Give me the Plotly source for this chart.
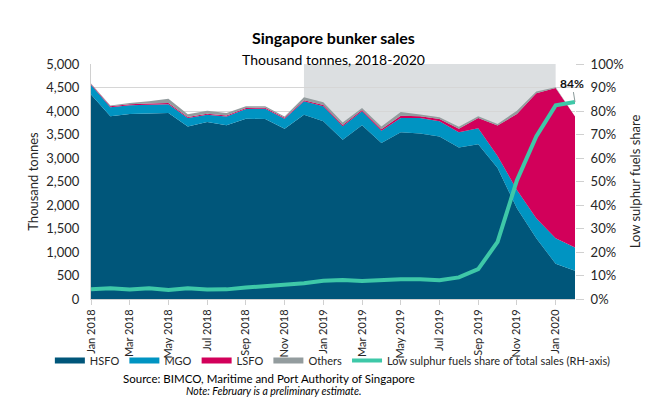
import plotly.graph_objects as go

months = ["Jan 2018", "Feb 2018", "Mar 2018", "Apr 2018", "May 2018", "Jun 2018",
          "Jul 2018", "Aug 2018", "Sep 2018", "Oct 2018", "Nov 2018", "Dec 2018",
          "Jan 2019", "Feb 2019", "Mar 2019", "Apr 2019", "May 2019", "Jun 2019",
          "Jul 2019", "Aug 2019", "Sep 2019", "Oct 2019", "Nov 2019", "Dec 2019",
          "Jan 2020", "Feb 2020"]

hsfo = [4350, 3890, 3935, 3945, 3955, 3670, 3765, 3695, 3835, 3830, 3620, 3920,
        3780, 3390, 3695, 3320, 3550, 3520, 3460, 3225, 3295, 2785, 1930, 1295,
        750, 600]
mgo = [210, 190, 185, 190, 190, 180, 155, 190, 210, 220, 215, 285,
       320, 285, 300, 260, 300, 330, 320, 325, 340, 255, 390, 425,
       545, 495]
lsfo = [15, 20, 25, 25, 25, 20, 20, 20, 20, 20, 20, 25,
        30, 25, 25, 30, 50, 40, 50, 70, 215, 650, 1615, 2660,
        3195, 2790]
others = [10, 15, 25, 45, 90, 60, 65, 50, 35, 30, 30, 60,
          55, 55, 45, 60, 80, 35, 35, 45, 40, 35, 70, 35,
          15, 0]
ls_share = [4.1, 4.6, 4.0, 4.6, 3.8, 4.6, 4.0, 4.1, 4.9, 5.5, 5.7, 6.7,
            7.8, 8.1, 7.7, 8.1, 8.4, 8.4, 8.0, 9.2, 12.7, 24.3, 50.5, 69.2,
            82.4, 83.8]

tick_months = months[::2]
left_ticks = list(range(0, 5001, 500))
right_ticks = list(range(0, 101, 10))
right_labels = [f"{v}%" for v in right_ticks]

FONT = "Lato"
TXT = "#262626"

fig = go.Figure()
series = [("HSFO", hsfo, "#00567a"), ("MGO", mgo, "#0094c2"),
          ("LSFO", lsfo, "#d2005a"), ("Others", others, "#939c9e")]
for name, vals, col in series:
    fig.add_trace(go.Scatter(x=months, y=vals, name=name, stackgroup="one",
                             mode="none", fillcolor=col, line=dict(width=0)))
fig.add_trace(go.Scatter(x=months, y=ls_share, name="Low sulphur fuels share of total sales (RH-axis)",
                         mode="lines", line=dict(color="#3ec8a8", width=4), yaxis="y2"))

fig.add_shape(type="rect", xref="x", yref="paper", x0="Dec 2018", x1="Jan 2020",
              y0=0, y1=1, fillcolor="#dcdfe1", line=dict(width=0), layer="below")

fig.add_annotation(x="Feb 2020", y=ls_share[-1], xref="x", yref="y2",
                   text="<b>84%</b>", showarrow=True, arrowhead=0, arrowwidth=1,
                   arrowcolor="#8a9a9a", ax=-3, ay=-19, font=dict(size=12, color="#111", family=FONT))

fig.add_annotation(x=0.5, y=1.162, xref="paper", yref="paper", showarrow=False,
                   text="<b>Singapore bunker sales</b>", font=dict(size=16, color="#000", family=FONT))
fig.add_annotation(x=0.5, y=1.064, xref="paper", yref="paper", showarrow=False,
                   text="Thousand tonnes, 2018-2020", font=dict(size=14, color="#000", family=FONT))
fig.add_annotation(x=0.368, y=-0.374, xref="paper", yref="paper", showarrow=False,
                   text="Source: BIMCO, Maritime and Port Authority of Singapore",
                   font=dict(size=11.5, color="#000", family=FONT))
fig.add_annotation(x=0.378, y=-0.425, xref="paper", yref="paper", showarrow=False,
                   text="<i>Note: February is a preliminary estimate.</i>",
                   font=dict(size=10.5, color="#000", family=FONT))

fig.update_layout(
    width=651, height=398,
    margin=dict(l=83, r=84, t=56, b=107),
    paper_bgcolor="white", plot_bgcolor="white",
    font=dict(family=FONT, size=12, color=TXT),
    showlegend=True,
    legend=dict(orientation="h", x=-0.085, xanchor="left", y=-0.262, yanchor="middle",
                traceorder="normal", font=dict(size=11, color=TXT, family=FONT),
                itemwidth=30, tracegroupgap=0, bgcolor="rgba(0,0,0,0)"),
    xaxis=dict(type="category", categoryorder="array", categoryarray=months,
               range=[0, 25], tickmode="array", tickvals=tick_months, ticktext=tick_months,
               tickangle=-90, ticks="outside", ticklen=5, tickcolor="#d0d0d0",
               showline=True, linecolor="#d0d0d0", showgrid=False,
               tickfont=dict(size=11, color=TXT, family=FONT)),
    yaxis=dict(range=[0, 5000], tickmode="array", tickvals=left_ticks, tickformat=",d",
               showgrid=True, gridcolor="#d6d6d6", gridwidth=1, zeroline=False,
               showline=True, linecolor="#d0d0d0", ticklabelstandoff=8,
               title=dict(text="Thousand tonnes", font=dict(size=13, color=TXT, family=FONT), standoff=4),
               tickfont=dict(size=13, color=TXT, family=FONT)),
    yaxis2=dict(range=[0, 100], overlaying="y", side="right", tickmode="array",
                tickvals=right_ticks, ticktext=right_labels, showgrid=False, zeroline=False,
                ticks="outside", ticklen=8, tickcolor="#d0d0d0", ticklabelstandoff=4,
                title=dict(text="Low sulphur fuels share", font=dict(size=13, color=TXT, family=FONT), standoff=8),
                tickfont=dict(size=13, color=TXT, family=FONT)),
)

fig.write_html("out.html")
